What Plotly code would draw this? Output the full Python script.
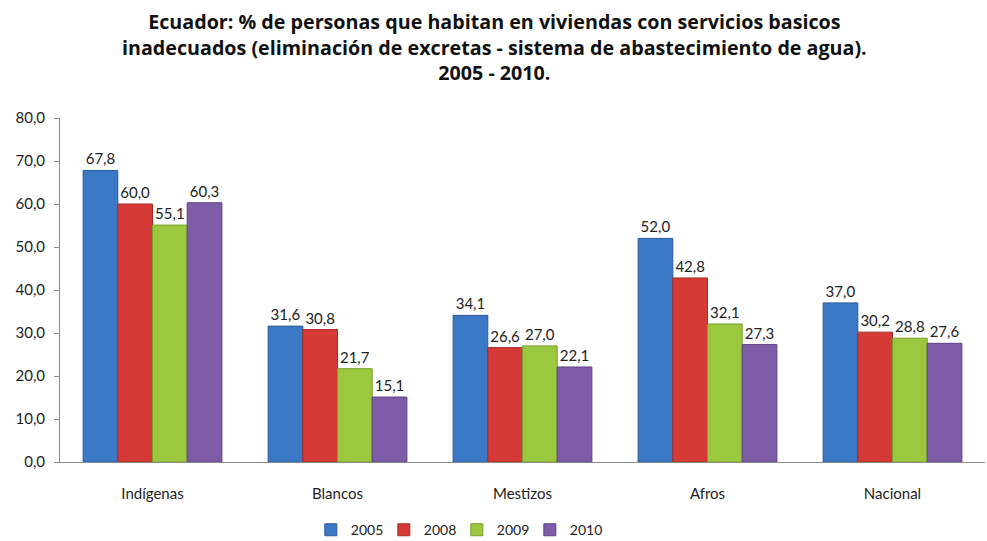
import plotly.graph_objects as go

categories = ["Indígenas", "Blancos", "Mestizos", "Afros", "Nacional"]
years = ["2005", "2008", "2009", "2010"]
v2005 = [67.8, 31.6, 34.1, 52.0, 37.0]
v2008 = [60.0, 30.8, 26.6, 42.8, 30.2]
v2009 = [55.1, 21.7, 27.0, 32.1, 28.8]
v2010 = [60.3, 15.1, 22.1, 27.3, 27.6]
series = [v2005, v2008, v2009, v2010]
colors = ["#3B78C6", "#D63A36", "#9CC83F", "#7E5CA8"]
line_colors = ["#2A5A9A", "#A52A27", "#76A02C", "#5E4282"]

title_text = ("<b>Ecuador: % de personas que habitan en viviendas con servicios basicos<br>"
              "inadecuados (eliminación de excretas - sistema de abastecimiento de agua).<br>"
              "2005 - 2010.</b>")

fig = go.Figure()
for name, vals, c, lc in zip(years, series, colors, line_colors):
    fig.add_trace(go.Bar(
        x=categories, y=vals, name=name,
        marker=dict(color=c, line=dict(color=lc, width=1)),
        texttemplate="%{y:.1f}", textposition="outside",
        textfont=dict(size=15, color="#222222"),
        cliponaxis=False,
    ))

fig.add_annotation(
    text=title_text, xref="paper", yref="paper", x=0.47, y=1.206,
    xanchor="center", yanchor="middle", showarrow=False, align="center",
    font=dict(family="Open Sans, sans-serif", size=19.7, color="#111111"),
)

fig.update_layout(
    width=987, height=541,
    separators=",.",
    font=dict(family="Lato, Open Sans, sans-serif", size=15, color="#222222"),
    barmode="group", bargap=0.25, bargroupgap=0,
    plot_bgcolor="white", paper_bgcolor="white",
    margin=dict(l=60, r=2, t=118, b=79, autoexpand=False),
    showlegend=True,
    legend=dict(orientation="h", x=0.429, xanchor="center",
                yref="container", y=0.02, yanchor="middle",
                font=dict(size=14), itemwidth=30, entrywidth=28, traceorder="normal"),
)
fig.update_yaxes(range=[0, 80], dtick=10, tickformat=".1f", showgrid=False,
                 showline=True, linecolor="#8C8C8C", ticks="outside", ticklen=5,
                 tickcolor="#8C8C8C", zeroline=False, tickfont=dict(size=15),
                 ticklabelstandoff=6, automargin=False)
fig.update_xaxes(showline=True, linecolor="#8C8C8C", showgrid=False,
                 tickfont=dict(size=15), ticklabelstandoff=18, automargin=False)

fig.write_html("out.html", post_script="document.body.style.margin='0';",
               config={"displayModeBar": False})
